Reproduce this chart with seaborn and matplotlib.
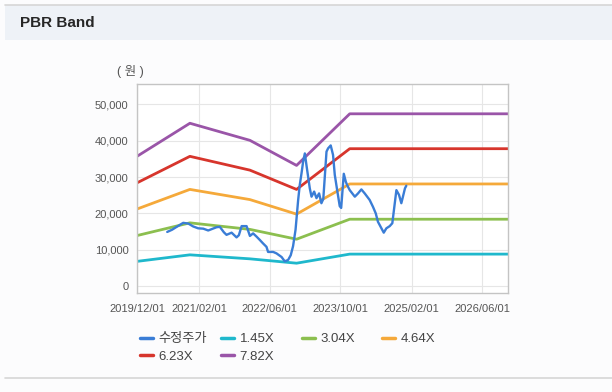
import pandas as pd
import matplotlib.pyplot as plt
import matplotlib.dates as mdates
import matplotlib.ticker as mticker
from matplotlib.lines import Line2D
from matplotlib.patches import Rectangle
import seaborn as sns

# PBR band knots (won)
band_dates = ['2019-12-01', '2020-11-29', '2022-01-16', '2022-12-03', '2023-12-04', '2026-11-27']
band_145 = [6800, 8600, 7500, 6300, 8800, 8800]
band_304 = [13900, 17400, 15600, 12900, 18400, 18400]
band_464 = [21200, 26600, 23800, 19800, 28100, 28100]
band_623 = [28400, 35700, 31900, 26600, 37800, 37800]
band_782 = [35700, 44800, 40100, 33200, 47400, 47400]

# adjusted price (수정주가)
price_dates = [
    '2020-06-26', '2020-07-29', '2020-08-30', '2020-10-14', '2020-11-18', '2020-12-22',
    '2021-01-25', '2021-03-01', '2021-04-04', '2021-05-06', '2021-06-01', '2021-06-23',
    '2021-07-21', '2021-08-08', '2021-09-12', '2021-10-16', '2021-11-01', '2021-11-20',
    '2021-12-24', '2022-01-16', '2022-02-07', '2022-03-03', '2022-03-25', '2022-04-15',
    '2022-05-10', '2022-05-21', '2022-06-25', '2022-07-18', '2022-08-22', '2022-09-13',
    '2022-10-06', '2022-10-24', '2022-11-09', '2022-11-26', '2022-12-14', '2022-12-25',
    '2023-01-06', '2023-01-17', '2023-01-29', '2023-02-09', '2023-03-04', '2023-03-16',
    '2023-04-03', '2023-04-19', '2023-05-07', '2023-05-23', '2023-06-05', '2023-06-27',
    '2023-07-08', '2023-07-26', '2023-08-11', '2023-08-23', '2023-09-10', '2023-09-26',
    '2023-10-06', '2023-10-24', '2023-11-07', '2023-11-16', '2023-12-04', '2024-01-08',
    '2024-01-30', '2024-02-22', '2024-03-16', '2024-04-19', '2024-05-12', '2024-05-31',
    '2024-06-15', '2024-07-09', '2024-07-25', '2024-08-12', '2024-09-04', '2024-09-22',
    '2024-10-03', '2024-10-20', '2024-11-07', '2024-11-23', '2024-12-04', '2024-12-18',
    '2024-12-27']
price = [
    14900, 15500, 16300, 17400, 17200, 16400,
    15900, 15800, 15300, 15800, 16200, 16300,
    14800, 14100, 14700, 13400, 14000, 16500,
    16500, 13800, 14500, 13600, 12700, 11800,
    10800, 9400, 9400, 9000, 8000, 6800,
    7200, 8500, 11000, 15500, 23700, 27800,
    31000, 34200, 36500, 33300, 26900, 24600,
    26000, 24200, 25500, 22800, 24000, 37000,
    37900, 38700, 36100, 30600, 26000, 22000,
    21500, 30900, 28700, 27800, 26400, 24600,
    25500, 26600, 25500, 23700, 21800, 20000,
    17700, 15900, 14700, 15900, 16500, 17300,
    20900, 26400, 25100, 22800, 24600, 26900,
    27600]

tick_dates = ['2019-12-01', '2021-02-01', '2022-06-01', '2023-10-01', '2025-02-01', '2026-06-01']

bands = [('1.45X', band_145, '#1fb8cc'), ('3.04X', band_304, '#8cbf4f'),
         ('4.64X', band_464, '#f5a93a'), ('6.23X', band_623, '#d7352c'),
         ('7.82X', band_782, '#9a55a8')]
price_color = '#3a7dd6'

sns.set_style("white")
plt.rcParams['font.family'] = ['Liberation Sans', 'Noto Sans CJK KR']

fig = plt.figure(figsize=(6.12, 3.92), dpi=100)
fig.patch.set_facecolor('#fcfcfd')

# header strip
fig.add_artist(Rectangle((5 / 612, 1 - 40 / 392), 607 / 612, 35 / 392, transform=fig.transFigure,
                         facecolor='#eef2f7', edgecolor='none', zorder=0))
fig.add_artist(Line2D([5 / 612, 1], [1 - 4.5 / 392] * 2, transform=fig.transFigure, color='#d6d6d6', lw=1.2))
fig.add_artist(Line2D([5 / 612, 1], [1 - 377.5 / 392] * 2, transform=fig.transFigure, color='#d6d6d6', lw=1.2))
fig.text(20 / 612, 1 - 23 / 392, 'PBR Band', fontsize=11, fontweight='bold', va='center', ha='left',
         family=['Liberation Sans', 'DejaVu Sans'])

ax = fig.add_axes([137 / 612, 1 - 293 / 392, (508 - 137) / 612, (293 - 84) / 392])
ax.set_facecolor('white')

bd = pd.to_datetime(band_dates)
for name, vals, col in bands:
    sns.lineplot(x=bd, y=vals, ax=ax, color=col, linewidth=2.0, label=name, legend=False)
sns.lineplot(x=pd.to_datetime(price_dates), y=price, ax=ax, color=price_color, linewidth=1.7,
             label='수정주가', legend=False)

ax.set_xlim(pd.Timestamp('2019-12-01'), pd.Timestamp('2026-11-27'))
ax.set_ylim(-1900, 55600)
ax.set_xticks(pd.to_datetime(tick_dates))
ax.xaxis.set_major_formatter(mdates.DateFormatter('%Y/%m/%d'))
ax.set_yticks(range(0, 50001, 10000))
ax.yaxis.set_major_formatter(mticker.FuncFormatter(lambda v, p: f'{int(v):,}'))
ax.grid(True, color='#e6e6e6', linewidth=0.8)
ax.set_axisbelow(True)
for s in ax.spines.values():
    s.set_color('#c4c4c4')
    s.set_linewidth(1.0)
ax.tick_params(axis='both', labelsize=8, labelcolor='#555555', color='#b5b5b5', length=4, width=0.8,
               direction='out', pad=2)
ax.tick_params(axis='x', pad=4)
ax.set_xlabel('')
ax.set_ylabel('')
fig.text(130 / 612, 1 - 72 / 392, '( 원 )', fontsize=9, color='#555555', ha='center', va='center')

# legend in fixed-width columns
handles = {}
for name, vals, col in bands:
    handles[name] = Line2D([], [], color=col, linewidth=2.5)
handles['수정주가'] = Line2D([], [], color=price_color, linewidth=2.5)
columns = [(140, ['수정주가', '6.23X']), (221, ['1.45X', '7.82X']), (302, ['3.04X']), (382, ['4.64X'])]
for x0, names in columns:
    leg = fig.legend([handles[n] for n in names], names, loc='upper left',
                     bbox_to_anchor=(x0 / 612, 1 - 333 / 392), frameon=False, fontsize=9.5,
                     handlelength=1.0, handletextpad=0.4, labelspacing=0.4, borderpad=0,
                     borderaxespad=0)
    for t in leg.get_texts():
        t.set_color('#444444')

fig.savefig('out.png', dpi=100, facecolor=fig.get_facecolor())
